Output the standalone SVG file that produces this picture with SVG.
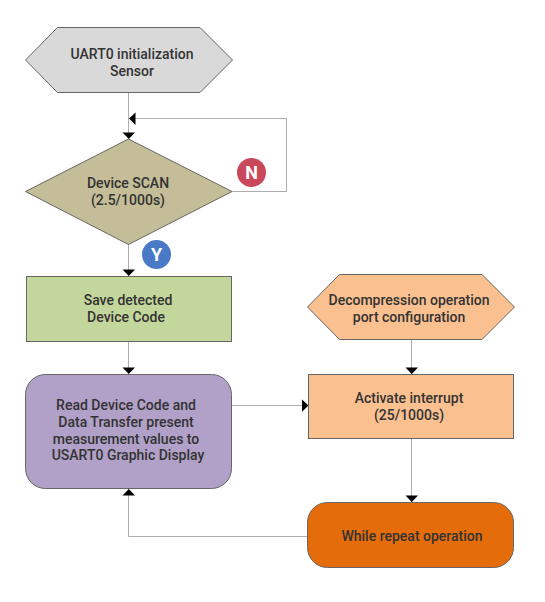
<svg xmlns="http://www.w3.org/2000/svg" width="545" height="602" viewBox="0 0 545 602">
<style>
.shape{stroke:#666;stroke-width:1}
.conn{fill:none;stroke:#adadad;stroke-width:1}
.head{fill:#000;stroke:none}
text{font-family:Roboto,"Liberation Sans",sans-serif;font-size:14px;font-weight:500;fill:#333;text-anchor:middle}
.badge{font-size:18px;font-weight:700;fill:#fff}
</style>
<rect width="545" height="602" fill="#fff"/>
<g id="connectors">
<path class="conn" d="M128.500 92V139"/>
<path class="conn" d="M232 191.500H286.500V118.500H135"/>
<path class="conn" d="M128.500 244V276"/>
<path class="conn" d="M128.500 341V374"/>
<path class="conn" d="M232 405.500H302"/>
<path class="conn" d="M411.500 339V374"/>
<path class="conn" d="M411.500 438V502"/>
<path class="conn" d="M307 536.500H128.500V489"/>
<polygon class="head" points="122.500,132.500 135,132.500 128.800,139"/>
<polygon class="head" points="129,118.500 135.500,112.500 135.500,125"/>
<polygon class="head" points="122.500,269.500 135,269.500 128.800,276"/>
<polygon class="head" points="122.500,367.500 135,367.500 128.800,374"/>
<polygon class="head" points="302,399.500 308.500,405.500 302,411.800"/>
<polygon class="head" points="405.500,367.500 418,367.500 411.800,374"/>
<polygon class="head" points="405.500,495.500 418,495.500 411.800,502"/>
<polygon class="head" points="122.500,495.500 135,495.500 128.800,489"/>
</g>
<g id="node-uart">
<polygon class="shape" fill="#d9d9d9" points="25.500,60 57.500,27.500 200,27.500 232.500,60 200,92.500 57.500,92.500"/>
<text x="132" y="59">UART0 initialization</text>
<text x="132" y="76">Sensor</text>
</g>
<g id="node-scan">
<polygon class="shape" fill="#c4bd97" points="128.500,139 232,191.500 128.500,244.500 25.500,191.500"/>
<text x="128" y="188">Device SCAN</text>
<text x="128" y="205">(2.5/1000s)</text>
</g>
<g id="badge-n">
<circle cx="251.500" cy="172.500" r="14.500" fill="#c9485b"/>
<text class="badge" x="251.500" y="179">N</text>
</g>
<g id="badge-y">
<circle cx="156.500" cy="254.500" r="14.500" fill="#4a7ac6"/>
<text class="badge" x="156.500" y="261">Y</text>
</g>
<g id="node-save">
<rect class="shape" fill="#c3d69b" x="26.500" y="276.500" width="205" height="65"/>
<text x="128" y="305">Save detected</text>
<text x="126" y="322">Device Code</text>
</g>
<g id="node-read">
<rect class="shape" fill="#b1a0c7" x="25.500" y="374.500" width="206" height="114" rx="20" ry="20"/>
<text x="126" y="410">Read Device Code and</text>
<text x="126" y="427">Data Transfer present</text>
<text x="126" y="444">measurement values to</text>
<text x="128" y="460">USART0 Graphic Display</text>
</g>
<g id="node-decompress">
<polygon class="shape" fill="#fac090" points="307.500,307 339.500,274.500 482,274.500 514.500,307 482,339.500 339.500,339.500"/>
<text x="409" y="305">Decompression operation</text>
<text x="409" y="322">port configuration</text>
</g>
<g id="node-activate">
<rect class="shape" fill="#fac090" x="308.500" y="374.500" width="205" height="64"/>
<text x="409" y="403">Activate interrupt</text>
<text x="409" y="420">(25/1000s)</text>
</g>
<g id="node-while">
<rect class="shape" fill="#e46c0a" x="307.500" y="502.500" width="206" height="65" rx="20" ry="20"/>
<text x="412" y="541">While repeat operation</text>
</g>
</svg>
